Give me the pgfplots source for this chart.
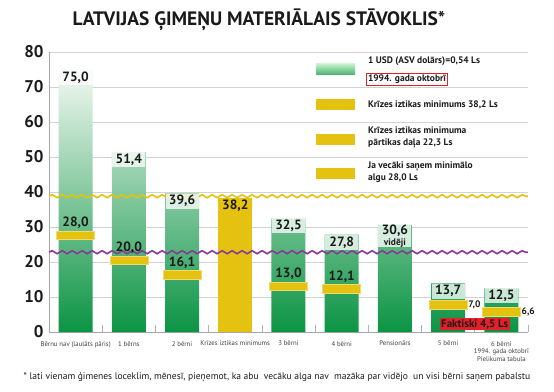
\documentclass[border=0pt]{standalone}
\usepackage{pgfplots}
\pgfplotsset{compat=1.18}
\usepackage{pgfplotstable}
\usepackage{fontspec}
\setmainfont{PT Sans}
\usetikzlibrary{decorations.pathmorphing}
\definecolor{gdark}{HTML}{0B9444}
\definecolor{glight}{HTML}{F2F8F2}
\definecolor{ycol}{HTML}{E5C20F}
\definecolor{pcol}{HTML}{8B3A98}
\definecolor{gridc}{HTML}{D2D2D2}
\definecolor{redc}{HTML}{E3202A}
\definecolor{txt}{HTML}{1A1A1A}
\pgfdeclareplotmark{yrect}{\pgfpathrectangle{\pgfpoint{-19bp}{-4.25bp}}{\pgfpoint{38bp}{8.5bp}}\pgfusepathqfillstroke}
\newcommand\pens{\shortstack{30,6\\[-1bp]{\fontsize{9.5}{9.5}\selectfont vidēji}}}
\pgfplotstableread{
x y lab
0 75.0 75,0
1 51.4 51,4
2 39.6 39,6
4 32.5 32,5
5 27.8 27,8
6 30.6 \pens
7 13.9 13,7
8 12.5 12,5
}\greendata
\pgfplotstableread{
x y lab
0 27.7 28,0
1 20.5 20,0
2 16.3 16,1
4 13.1 13,0
5 12.3 12,1
}\rectsA
\pgfplotstableread{
x y lab
7 7.8 7,0
8 5.8 6,6
}\rectsB
\begin{document}
\begin{tikzpicture}
\useasboundingbox (0,0) rectangle (554bp,392bp);
\begin{axis}[
  at={(49bp,60bp)}, anchor=south west,
  scale only axis, width=479bp, height=280bp,
  xmin=-0.5, xmax=8.5, ymin=0, ymax=80,
  clip=false,
  axis lines=left,
  axis line style={-, draw=gray!70, line width=0.8bp},
  ytick={0,10,...,80},
  ymajorgrids, major grid style={draw=gridc, line width=0.8bp},
  ytick style={draw=none},
  /pgf/number format/assume math mode=true,
  yticklabel style={font=\bfseries\fontsize{17}{17}\selectfont, text=txt, xshift=-2bp},
  xtick={0,...,8},
  xticklabels={{Bērnu nav (laulāts pāris)},{1 bērns},{2 bērni},{Krīzes iztikas minimums},{3 bērni},{4 bērni},{Pensionārs},{5 bērni},{6 bērni\\1994. gada oktobrī\\Pielikuma tabula}},
  xticklabel style={font=\fontsize{6.8}{7.6}\selectfont, text=black!75, align=center, inner sep=0pt, yshift=-9bp},
  major x tick style={draw=none},
  minor xtick={0.5,1.5,...,8.5},
  minor x tick style={draw=gray!60, line width=0.7bp},
  minor tick length=7bp,
  tick align=inside,
]
% green bars
\addplot[ybar, bar width=34bp, bar shift=0pt, draw=none, top color=glight, bottom color=gdark,
  nodes near coords, point meta=explicit symbolic,
  every node near coord/.append style={anchor=north, fill=white, fill opacity=0.75, text opacity=1,
     inner sep=0pt, minimum width=33bp, minimum height=15bp, text=txt,
     font=\bfseries\fontsize{13.5}{13.5}\selectfont}]
  table[x=x, y=y, meta=lab] {\greendata};
% yellow bar
\addplot[ybar, bar width=34bp, bar shift=0pt, draw=none, fill=ycol,
  nodes near coords, point meta=explicit symbolic,
  every node near coord/.append style={anchor=north, inner sep=0pt, minimum height=15bp, text=txt,
     font=\bfseries\fontsize{13.5}{13.5}\selectfont}]
  coordinates {(3,38.2) [38,2]};
% wavy lines
\addplot[draw=ycol, line width=1.6bp, decorate, decoration={snake, amplitude=1.5bp, segment length=10bp}]
  coordinates {(-0.5,38.8) (8.5,38.8)};
\addplot[draw=pcol, line width=1.6bp, decorate, decoration={snake, amplitude=1.5bp, segment length=10bp}]
  coordinates {(-0.5,22.8) (8.5,22.8)};
% yellow rectangles
\addplot[only marks, mark=yrect, mark options={fill=ycol, draw=ycol!60!white, line width=0.6bp},
  nodes near coords, point meta=explicit symbolic,
  every node near coord/.append style={anchor=south, inner sep=0pt, yshift=6bp, text=txt,
     font=\bfseries\fontsize{13.5}{13.5}\selectfont}]
  table[x=x, y=y, meta=lab] {\rectsA};
\addplot[only marks, mark=yrect, mark options={fill=ycol, draw=ycol!60!white, line width=0.6bp},
  nodes near coords, point meta=explicit symbolic,
  every node near coord/.append style={anchor=west, inner sep=0pt, xshift=20bp, text=txt,
     font=\bfseries\fontsize{9.5}{9.5}\selectfont}]
  table[x=x, y=y, meta=lab] {\rectsB};
\node[fill=redc, inner sep=1.5bp, minimum width=64bp, minimum height=12bp, text=txt,
  font=\bfseries\fontsize{11}{11}\selectfont] at (axis cs:7.5,2.3) {Faktiski 4,5 Ls};
\end{axis}
% title
\node[font=\bfseries\fontsize{19.5}{19.5}\selectfont, text=txt] at (259bp,372bp) {LATVIJAS ĢIMEŅU MATERIĀLAIS STĀVOKLIS*};
% legend
\shade[top color=green!50!gdark!25!white, bottom color=gdark!75!white] (316bp,317bp) rectangle (355bp,328bp);
\node[anchor=west, font=\bfseries\fontsize{9.5}{9.5}\selectfont, text=txt, inner sep=0pt] at (368bp,331bp) {1 USD (ASV dolārs)=0,54 Ls};
\node[anchor=west, draw=redc, line width=0.8bp, font=\bfseries\fontsize{9.5}{9.5}\selectfont, text=txt, inner sep=1.6bp] at (366bp,313bp) {1994. gada oktobrī};
\fill[ycol] (316bp,282bp) rectangle (355bp,293bp);
\node[anchor=west, font=\bfseries\fontsize{9.5}{9.5}\selectfont, text=txt, inner sep=0pt] at (368bp,287.5bp) {Krīzes iztikas minimums 38,2 Ls};
\fill[ycol] (316bp,247bp) rectangle (355bp,258bp);
\node[anchor=west, align=left, font=\bfseries\fontsize{9.5}{11.5}\selectfont, text=txt, inner sep=0pt] at (368bp,254.5bp) {Krīzes iztikas minimuma\\pārtikas daļa 22,3 Ls};
\fill[ycol] (316bp,213bp) rectangle (355bp,224bp);
\node[anchor=west, align=left, font=\bfseries\fontsize{9.5}{11.5}\selectfont, text=txt, inner sep=0pt] at (368bp,220bp) {Ja vecāki saņem minimālo\\algu 28,0 Ls};
% footnote
\node[font=\fontsize{9.6}{9.6}\selectfont, text=txt] at (277bp,15bp) {* lati vienam ģimenes loceklim, mēnesī, pieņemot, ka abu\ \ vecāku alga nav\ \ mazāka par vidējo\ \ un visi bērni saņem pabalstu};
\end{tikzpicture}
\end{document}
